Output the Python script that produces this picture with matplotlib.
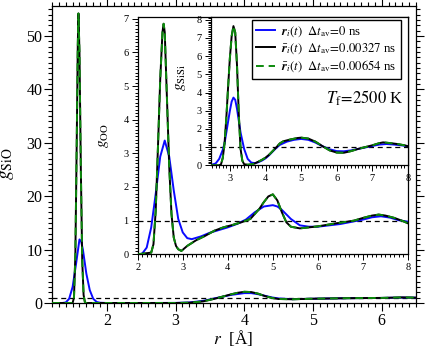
import matplotlib
matplotlib.use("Agg")
import matplotlib.pyplot as plt
from matplotlib.ticker import MultipleLocator

plt.rcParams['font.family'] = ['Liberation Serif', 'DejaVu Serif']
plt.rcParams['mathtext.fontset'] = 'stix'

# --- main panel: g_SiO ---
r_sio_blue = [1.20, 1.35, 1.40, 1.45, 1.50, 1.55, 1.60, 1.625, 1.65, 1.70, 1.75, 1.80,
              1.85, 1.90, 2.00, 2.50, 3.00, 3.20, 3.40, 3.60, 3.80, 4.00, 4.10, 4.20,
              4.30, 4.40, 4.50, 4.70, 5.00, 5.50, 6.00, 6.30, 6.50]
g_sio_blue = [0, 0, 0.1, 0.8, 3.0, 7.3, 11.9, 11.5, 10.0, 5.5, 2.4, 0.8,
              0.2, 0.05, 0, 0, 0.02, 0.1, 0.4, 0.95, 1.5, 1.85, 1.85, 1.65,
              1.35, 1.05, 0.85, 0.72, 0.8, 0.9, 0.95, 1.02, 1.0]
r_sio_avg = [1.20, 1.50, 1.52, 1.54, 1.56, 1.575, 1.585, 1.60, 1.62, 1.64, 1.66, 1.68,
             1.70, 2.50, 3.00, 3.20, 3.40, 3.60, 3.80, 3.90, 4.00, 4.10, 4.20, 4.30,
             4.40, 4.50, 4.70, 5.00, 5.50, 6.00, 6.30, 6.50]
g_sio_avg = [0, 0, 1.0, 9.0, 30.0, 48.0, 54.2, 47.0, 25.0, 8.0, 1.5, 0.1,
             0, 0, 0, 0.05, 0.3, 0.9, 1.6, 1.9, 2.1, 2.05, 1.75, 1.3,
             0.95, 0.75, 0.7, 0.8, 0.9, 0.95, 1.05, 1.0]

# --- inset 1: g_OO ---
r_oo_blue = [2.0, 2.1, 2.2, 2.3, 2.4, 2.5, 2.6, 2.7, 2.8, 2.9, 3.0, 3.1, 3.2, 3.4,
             3.6, 3.8, 4.0, 4.2, 4.4, 4.6, 4.8, 5.0, 5.1, 5.2, 5.4, 5.6, 5.8, 6.0,
             6.5, 7.0, 7.2, 7.4, 7.6, 7.8, 8.0]
g_oo_blue = [0, 0.02, 0.2, 0.8, 1.8, 2.9, 3.38, 2.9, 1.9, 1.05, 0.65, 0.48, 0.45, 0.53,
             0.64, 0.72, 0.8, 0.9, 1.03, 1.25, 1.42, 1.46, 1.42, 1.32, 1.05, 0.86, 0.82, 0.82,
             0.9, 1.03, 1.1, 1.13, 1.09, 1.01, 0.97]
r_oo_avg = [2.0, 2.3, 2.35, 2.4, 2.45, 2.5, 2.55, 2.575, 2.6, 2.65, 2.7, 2.75, 2.8, 2.85,
            2.9, 2.97, 3.1, 3.3, 3.5, 3.7, 3.9, 4.1, 4.3, 4.5, 4.7, 4.8, 4.9, 5.0,
            5.1, 5.2, 5.3, 5.4, 5.6, 5.8, 6.0, 6.4, 6.8, 7.0, 7.2, 7.35, 7.5, 7.7,
            7.9, 8.0]
g_oo_avg = [0, 0.05, 0.3, 1.3, 3.2, 5.2, 6.6, 6.85, 6.6, 4.6, 2.6, 1.2, 0.5, 0.25,
            0.15, 0.1, 0.25, 0.42, 0.55, 0.7, 0.8, 0.87, 0.95, 1.05, 1.35, 1.55, 1.72, 1.78,
            1.6, 1.25, 0.95, 0.82, 0.77, 0.8, 0.83, 0.92, 1.0, 1.08, 1.15, 1.18, 1.15, 1.08,
            0.98, 0.92]

# --- inset 2: g_SiSi ---
r_sisi_blue = [2.47, 2.6, 2.7, 2.8, 2.85, 2.9, 3.0, 3.05, 3.1, 3.15, 3.2, 3.3, 3.4, 3.5,
               3.6, 3.7, 3.8, 3.9, 4.0, 4.1, 4.2, 4.3, 4.4, 4.6, 4.8, 5.0, 5.2, 5.4,
               5.6, 5.8, 6.0, 6.2, 6.4, 6.6, 6.8, 7.0, 7.2, 7.4, 7.6, 7.8, 8.0]
g_sisi_blue = [0.02, 0.1, 0.35, 0.85, 1.2, 1.8, 3.0, 3.5, 3.72, 3.6, 3.1, 1.8, 0.9, 0.35,
               0.15, 0.12, 0.17, 0.26, 0.38, 0.55, 0.75, 0.95, 1.12, 1.3, 1.4, 1.45, 1.4, 1.25,
               1.05, 0.88, 0.78, 0.77, 0.82, 0.9, 0.98, 1.06, 1.14, 1.17, 1.14, 1.1, 1.05]
r_sisi_avg = [2.47, 2.7, 2.75, 2.8, 2.85, 2.9, 2.95, 3.0, 3.05, 3.1, 3.15, 3.2, 3.25, 3.3,
              3.35, 3.4, 3.5, 3.6, 3.7, 3.8, 3.9, 4.0, 4.1, 4.2, 4.3, 4.4, 4.5, 4.7,
              4.9, 5.0, 5.2, 5.4, 5.6, 5.8, 6.0, 6.2, 6.4, 6.6, 6.8, 7.0, 7.2, 7.3,
              7.5, 7.7, 7.9, 8.0]
g_sisi_avg = [0, 0, 0.05, 0.4, 1.2, 2.6, 4.3, 5.9, 7.1, 7.65, 7.3, 5.5, 2.8, 0.9,
              0.25, 0.06, 0.03, 0.05, 0.1, 0.2, 0.3, 0.42, 0.58, 0.78, 0.98, 1.2, 1.32, 1.42,
              1.5, 1.52, 1.47, 1.3, 1.05, 0.82, 0.7, 0.69, 0.78, 0.9, 1.0, 1.1, 1.22, 1.26,
              1.22, 1.17, 1.1, 1.05]

labels = [r'$\mathbfit{r}_i(t)\ \ \Delta t_{\rm av}\!=\!\mathit{0}$ ns',
          r'$\bar{\mathbfit{r}}_i(t)\ \ \Delta t_{\rm av}\!=\!\mathit{0.00327}$ ns',
          r'$\bar{\mathbfit{r}}_i(t)\ \ \Delta t_{\rm av}\!=\!\mathit{0.00654}$ ns']

BLUE = '#0a0aff'
GREEN = '#0d8a0d'


def draw(ax, rb, gb, ra, ga, xlim):
    ax.axhline(1.0, color='black', lw=0.9, dashes=(4, 3), zorder=1)
    lb, = ax.plot(rb, gb, color=BLUE, lw=1.4, zorder=2)
    lk, = ax.plot(ra, ga, color='black', lw=1.4, zorder=3)
    lg, = ax.plot(ra, ga, color=GREEN, lw=1.4, dashes=(4, 2.5), zorder=4)
    ax.set_xlim(*xlim)
    return lb, lk, lg


fig = plt.figure(figsize=(4.29, 3.5), dpi=100)

# main axes
ax = fig.add_axes([52 / 429, 1 - 303 / 350, 364 / 429, 297 / 350])
draw(ax, r_sio_blue, g_sio_blue, r_sio_avg, g_sio_avg, (1.2, 6.5))
ax.set_ylim(0, 55.6)
ax.xaxis.set_major_locator(MultipleLocator(1))
ax.xaxis.set_minor_locator(MultipleLocator(0.1))
ax.yaxis.set_major_locator(MultipleLocator(10))
ax.yaxis.set_minor_locator(MultipleLocator(1))
ax.tick_params(which='both', direction='out', top=True, right=True, width=0.8,
               labelsize=11.5, pad=1.5)
ax.tick_params(which='major', length=5.5)
ax.tick_params(which='minor', length=3)
ax.set_ylabel(r'$g_{\rm SiO}$', fontsize=14)
ax.yaxis.set_label_coords(-0.099, 0.47)
ax.set_xlabel(r'$r$  [Å]', fontsize=12.5)
ax.xaxis.set_label_coords(0.497, -0.084)

# inset 1: g_OO
ax1 = fig.add_axes([137.7 / 429, 1 - 254.3 / 350, 270.3 / 429, 237.3 / 350])
draw(ax1, r_oo_blue, g_oo_blue, r_oo_avg, g_oo_avg, (2, 8))
ax1.set_ylim(0, 7.05)
ax1.xaxis.set_major_locator(MultipleLocator(1))
ax1.xaxis.set_minor_locator(MultipleLocator(0.1))
ax1.yaxis.set_major_locator(MultipleLocator(1))
ax1.yaxis.set_minor_locator(MultipleLocator(0.1))
ax1.tick_params(which='both', direction='out', width=0.7, labelsize=7.5, pad=2)
ax1.tick_params(which='major', length=4.5)
ax1.tick_params(which='minor', length=2.5)
ax1.set_ylabel(r'$g_{\rm OO}$', fontsize=11)
ax1.yaxis.set_label_coords(-0.097, 0.5)

# inset 2: g_SiSi
ax2 = fig.add_axes([211 / 429, 1 - 165.3 / 350, 197 / 429, 148.3 / 350])
lines = draw(ax2, r_sisi_blue, g_sisi_blue, r_sisi_avg, g_sisi_avg, (2.47, 8))
ax2.set_ylim(0, 8.15)
ax2.xaxis.set_major_locator(MultipleLocator(1))
ax2.xaxis.set_minor_locator(MultipleLocator(0.1))
ax2.yaxis.set_major_locator(MultipleLocator(1))
ax2.yaxis.set_minor_locator(MultipleLocator(0.1))
ax2.tick_params(which='both', direction='out', width=0.7, labelsize=7.5, pad=2)
ax2.tick_params(which='major', length=4.5)
ax2.tick_params(which='minor', length=2.5)
ax2.set_ylabel(r'$g_{\rm SiSi}$', fontsize=11)
ax2.yaxis.set_label_coords(-0.117, 0.59)
ax2.text(0.975, 0.45, r'$T_{\rm f}\!=\!\mathit{2500}$ K', transform=ax2.transAxes,
         ha='right', va='center', fontsize=12)

leg = ax2.legend(lines, labels, loc='upper right', bbox_to_anchor=(0.964, 0.98),
                 borderaxespad=0, fontsize=9.2, handlelength=1.5, handletextpad=0.45,
                 labelspacing=0.2, borderpad=0.35, fancybox=False, framealpha=1,
                 edgecolor='black')
leg.get_frame().set_linewidth(1.0)

for a in (ax, ax1, ax2):
    for s in a.spines.values():
        s.set_linewidth(0.9)

fig.savefig('out.png', dpi=100)
